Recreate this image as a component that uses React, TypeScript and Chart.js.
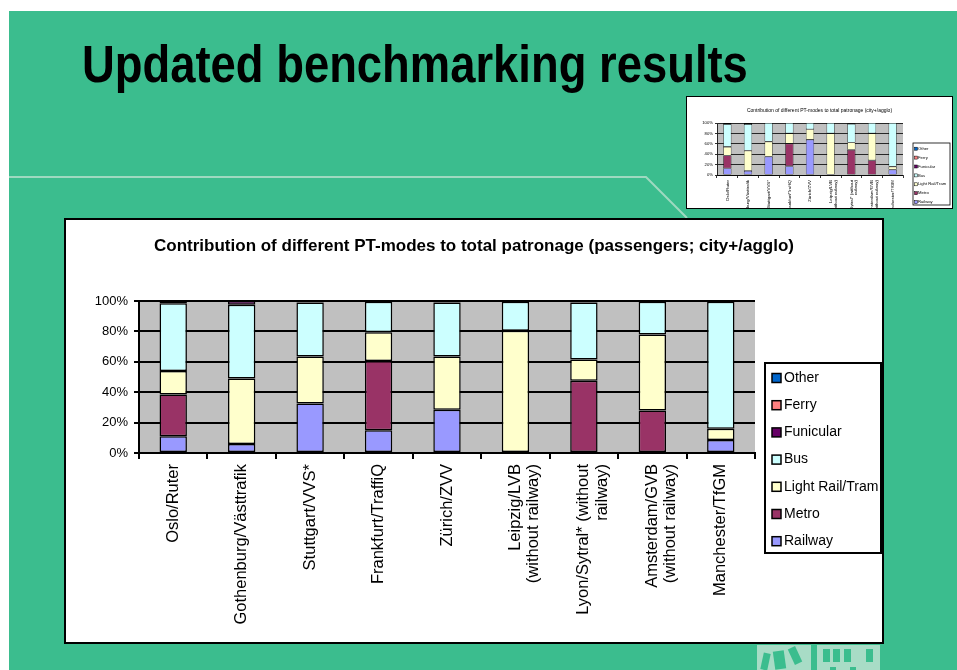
import React, { useEffect, useRef } from 'react';
import { Chart, registerables } from 'chart.js';

Chart.register(...registerables);

const FONT = "'Liberation Sans', Arial, sans-serif";

// ---------- data ----------
const categories: (string | string[])[] = [
  'Oslo/Ruter',
  'Gothenburg/Västtrafik',
  'Stuttgart/VVS*',
  'Frankfurt/TraffiQ',
  'Zürich/ZVV',
  ['Leipzig/LVB', '(without railway)'],
  ['Lyon/Sytral* (without', 'railway)'],
  ['Amsterdam/GVB', '(without railway)'],
  'Manchester/TfGM',
];

const seriesNames = ['Railway', 'Metro', 'Light Rail/Tram', 'Bus', 'Funicular', 'Ferry', 'Other'];
const seriesColors = ['#9999FF', '#993366', '#FFFFCC', '#CCFFFF', '#660066', '#FF8080', '#0066CC'];

// main chart (updated results), % of patronage
const railway = [11, 6, 32.5, 15, 28.5, 0, 0, 0, 8.5];
const metro = [27.5, 0, 0, 45.5, 0, 0, 47.5, 28, 0];
const lightRail = [15.5, 43, 31, 19, 35, 80.5, 14, 50, 7.5];
const bus = [44.5, 48.5, 35.5, 20, 35.5, 19, 37.5, 21.5, 83.5];
const funicular = [1.5, 2.5, 1, 0.5, 1, 0.5, 1, 0.5, 0.5];
const ferry = [0, 0, 0, 0, 0, 0, 0, 0, 0];
const other = [0, 0, 0, 0, 0, 0, 0, 0, 0];

// thumbnail chart (earlier results)
const thumbRailway = [13, 8, 35.5, 17, 68, 0, 0, 0, 10.5];
const thumbMetro = [24.5, 0, 0, 43.5, 0, 0, 48.5, 28, 0];
const thumbLightRail = [16.5, 39, 28.5, 19.5, 20, 80, 14, 52, 5.5];
const thumbBus = [44, 51, 36, 20, 12, 20, 36, 20, 84];
const thumbFunicular = [2, 2, 0, 0, 0, 0, 1.5, 0, 0];
const thumbFerry = [0, 0, 0, 0, 0, 0, 0, 0, 0];
const thumbOther = [0, 0, 0, 0, 0, 0, 0, 0, 0];

const yTickStep = 20;
const mainTitle = 'Contribution of different PT-modes to total patronage (passengers; city+/agglo)';
const thumbTitle = 'Contribution of different PT-modes to total patronage (city+/agglo)';
const slideTitle = 'Updated benchmarking results';

const mainSeries = [railway, metro, lightRail, bus, funicular, ferry, other];
const thumbSeries = [thumbRailway, thumbMetro, thumbLightRail, thumbBus, thumbFunicular, thumbFerry, thumbOther];

// ---------- plugins ----------
const plotBgPlugin = (color: string) => ({
  id: 'plotBg',
  beforeDraw(chart: any) {
    const { ctx, chartArea: a } = chart;
    ctx.save();
    ctx.fillStyle = color;
    ctx.fillRect(a.left, a.top, a.right - a.left, a.bottom - a.top);
    ctx.restore();
  },
});

type LegendCfg = {
  dx: number; top: number; w: number; h: number; border: number;
  first: number; step: number; sx: number; s: number; sb: number; tx: number; font: number;
};

const boxLegendPlugin = (c: LegendCfg) => ({
  id: 'boxLegend',
  afterDraw(chart: any) {
    const { ctx, chartArea: a } = chart;
    const x = a.right + c.dx;
    const y = c.top;
    ctx.save();
    ctx.fillStyle = '#fff';
    ctx.fillRect(x, y, c.w, c.h);
    ctx.strokeStyle = '#000';
    ctx.lineWidth = c.border;
    ctx.strokeRect(x, y, c.w, c.h);
    const ds = chart.data.datasets.slice().reverse();
    ds.forEach((d: any, i: number) => {
      const cy = y + c.first + i * c.step;
      ctx.fillStyle = d.backgroundColor;
      ctx.fillRect(x + c.sx, cy - c.s / 2, c.s, c.s);
      ctx.lineWidth = c.sb;
      ctx.strokeStyle = '#000';
      ctx.strokeRect(x + c.sx, cy - c.s / 2, c.s, c.s);
      ctx.fillStyle = '#000';
      ctx.font = `${c.font}px ${FONT}`;
      ctx.textBaseline = 'middle';
      ctx.textAlign = 'left';
      ctx.fillText(d.label, x + c.tx, cy);
    });
    ctx.restore();
  },
});

type BuildCfg = {
  series: number[][];
  title: string;
  titleSize: number;
  titleWeight: string;
  titlePad: { top: number; bottom: number };
  yWidth: number;
  xHeight: number;
  rightPad: number;
  xFont: number;
  yFont: number;
  yPad: number;
  xPad: number;
  tickLen: number;
  gridWidth: number;
  axisWidth: number;
  barBorder: number;
  legend: LegendCfg;
};

function buildConfig(b: BuildCfg): any {
  return {
    type: 'bar',
    data: {
      labels: categories,
      datasets: seriesNames.map((name, i) => ({
        label: name,
        data: b.series[i],
        backgroundColor: seriesColors[i],
        borderColor: '#000',
        borderWidth: b.barBorder,
        borderSkipped: false,
        categoryPercentage: 0.8,
        barPercentage: 0.5,
      })),
    },
    options: {
      responsive: false,
      animation: false,
      events: [],
      layout: { padding: 0 },
      plugins: {
        legend: { display: false },
        tooltip: { enabled: false },
        title: {
          display: true,
          text: b.title,
          color: '#000',
          font: { family: FONT, size: b.titleSize, weight: b.titleWeight, lineHeight: 1.2 },
          padding: b.titlePad,
        },
      },
      scales: {
        x: {
          stacked: true,
          grid: {
            display: true,
            drawOnChartArea: false,
            drawTicks: true,
            tickLength: b.tickLen + 1,
            color: '#000',
            lineWidth: b.gridWidth,
            offset: true,
          },
          border: { display: true, color: '#000', width: b.axisWidth },
          ticks: {
            minRotation: 90,
            maxRotation: 90,
            autoSkip: false,
            padding: b.xPad,
            color: '#000',
            font: { family: FONT, size: b.xFont, lineHeight: 1.1 },
          },
          afterFit: (s: any) => { s.height = b.xHeight; },
        },
        y: {
          stacked: true,
          min: 0,
          max: 100,
          ticks: {
            stepSize: yTickStep,
            callback: (v: any) => `${v}%`,
            color: '#000',
            padding: b.yPad,
            font: { family: FONT, size: b.yFont },
          },
          grid: { color: '#000', lineWidth: b.gridWidth, tickLength: b.tickLen, drawTicks: true },
          border: { display: true, color: '#000', width: b.axisWidth },
          afterFit: (s: any) => { s.width = b.yWidth; },
        },
        // empty right-hand axis that reserves the space where the legend box sits
        legendSpace: {
          type: 'linear',
          position: 'right',
          display: true,
          grid: { display: false, drawTicks: false },
          ticks: { display: false },
          border: { display: false },
          afterFit: (s: any) => { s.width = b.rightPad; },
        },
      },
    },
    plugins: [plotBgPlugin('#C0C0C0'), boxLegendPlugin(b.legend)],
  };
}

function ChartCanvas({ width, height, build }: { width: number; height: number; build: () => any }) {
  const ref = useRef<HTMLCanvasElement>(null);
  useEffect(() => {
    const chart = new Chart(ref.current as HTMLCanvasElement, build());
    return () => chart.destroy();
  }, []);
  return <canvas ref={ref} width={width} height={height} style={{ display: 'block', width, height }} />;
}

const mainBuild = () =>
  buildConfig({
    series: mainSeries,
    title: mainTitle,
    titleSize: 17,
    titleWeight: 'bold',
    titlePad: { top: 16, bottom: 44.6 },
    yWidth: 73,
    xHeight: 189,
    rightPad: 127,
    xFont: 16.5,
    yFont: 13,
    yPad: 6,
    xPad: 5,
    tickLen: 5,
    gridWidth: 2,
    axisWidth: 2,
    barBorder: 1.5,
    legend: { dx: 10, top: 143, w: 116, h: 190, border: 2, first: 15, step: 27.2, sx: 7, s: 9, sb: 1.5, tx: 19, font: 14 },
  });

const thumbBuild = () =>
  buildConfig({
    series: thumbSeries,
    title: thumbTitle,
    titleSize: 5,
    titleWeight: 'normal',
    titlePad: { top: 11, bottom: 9 },
    yWidth: 30,
    xHeight: 33,
    rightPad: 49,
    xFont: 4.4,
    yFont: 4.2,
    yPad: 2,
    xPad: 2,
    tickLen: 2,
    gridWidth: 0.8,
    axisWidth: 0.8,
    barBorder: 0.6,
    legend: { dx: 10, top: 46, w: 37, h: 62, border: 0.8, first: 5.7, step: 8.9, sx: 1.5, s: 3, sb: 0.5, tx: 5, font: 4.2 },
  });

export default function App() {
  const green = '#3BBD8E';
  const pale = '#A8DCC6';
  return (
    <div style={{ position: 'absolute', left: 0, top: 0, width: 957, height: 670, background: '#fff', overflow: 'hidden', fontFamily: FONT }}>
      <div style={{ position: 'absolute', left: 9, top: 11, width: 948, height: 659, background: green }} />
      <svg style={{ position: 'absolute', left: 0, top: 0 }} width={957} height={670}>
        <polyline points="9,177 646,177 687,218" fill="none" stroke="#9ED9C0" strokeWidth={2} />
      </svg>
      <div
        style={{
          position: 'absolute', left: 82, top: 39, fontSize: 51, lineHeight: '51px', fontWeight: 'bold', color: '#000',
          whiteSpace: 'nowrap', transform: 'scaleX(0.89)', transformOrigin: 'left top',
        }}
      >
        {slideTitle}
      </div>
      <div style={{ position: 'absolute', left: 686, top: 96, width: 267, height: 113, boxSizing: 'border-box', border: '1px solid #000', background: '#fff' }}>
        <ChartCanvas width={265} height={111} build={thumbBuild} />
      </div>
      <div style={{ position: 'absolute', left: 64, top: 218, width: 820, height: 426, boxSizing: 'border-box', border: '2px solid #000', background: '#fff' }}>
        <ChartCanvas width={816} height={422} build={mainBuild} />
      </div>
      <div style={{ position: 'absolute', left: 757, top: 645, width: 54, height: 25, background: pale, overflow: 'hidden' }}>
        <div style={{ position: 'absolute', left: 5, top: 8, width: 7, height: 17, background: green, transform: 'rotate(12deg)' }} />
        <div style={{ position: 'absolute', left: 17, top: 6, width: 11, height: 18, background: green, transform: 'rotate(-8deg)' }} />
        <div style={{ position: 'absolute', left: 34, top: 2, width: 8, height: 17, background: green, transform: 'rotate(-25deg)' }} />
      </div>
      <div style={{ position: 'absolute', left: 817, top: 645, width: 63, height: 25, background: pale, overflow: 'hidden' }}>
        <div style={{ position: 'absolute', left: 6, top: 4, width: 7, height: 13, background: green }} />
        <div style={{ position: 'absolute', left: 16, top: 4, width: 7, height: 13, background: green }} />
        <div style={{ position: 'absolute', left: 27, top: 4, width: 7, height: 13, background: green }} />
        <div style={{ position: 'absolute', left: 49, top: 4, width: 7, height: 13, background: green }} />
        <div style={{ position: 'absolute', left: 13, top: 22, width: 6, height: 3, background: green }} />
        <div style={{ position: 'absolute', left: 33, top: 22, width: 6, height: 3, background: green }} />
      </div>
    </div>
  );
}
